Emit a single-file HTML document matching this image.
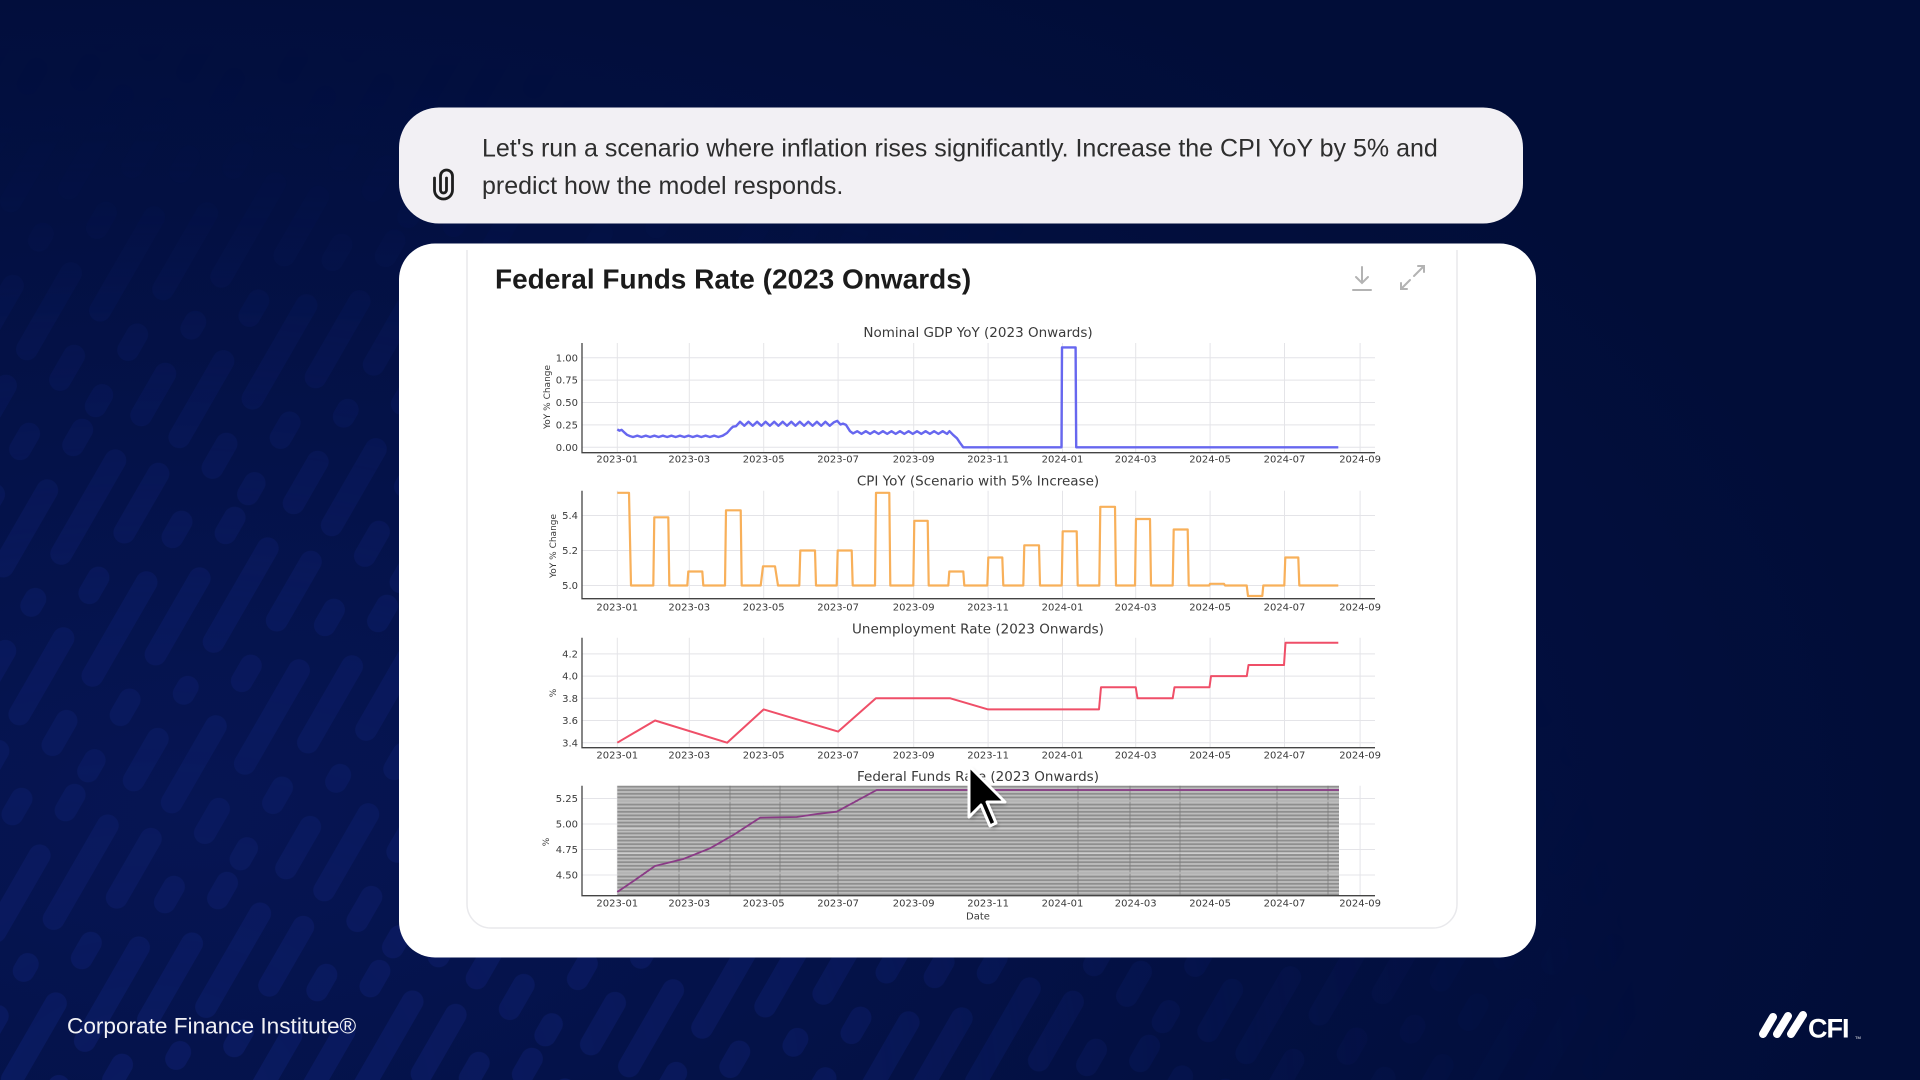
<!DOCTYPE html>
<html>
<head>
<meta charset="utf-8">
<style>
html,body{margin:0;padding:0;width:1920px;height:1080px;overflow:hidden;background:#020e3b;}
svg{position:absolute;left:0;top:0;display:block;}
.tk{font-family:"DejaVu Sans",sans-serif;font-size:10px;fill:#3a3a3a;}
.tt{font-family:"DejaVu Sans",sans-serif;font-size:13.5px;fill:#3a3a3a;}
.yl{font-family:"DejaVu Sans",sans-serif;font-size:9px;fill:#3a3a3a;}
</style>
</head>
<body>
<svg width="1920" height="1080" viewBox="0 0 1920 1080" xmlns="http://www.w3.org/2000/svg">
<defs>
  <radialGradient id="bgG" cx="0.1" cy="0.75" r="0.9">
    <stop offset="0" stop-color="#061553"/>
    <stop offset="1" stop-color="#010d38"/>
  </radialGradient>
  <pattern id="stripes" width="176" height="320" patternUnits="userSpaceOnUse" patternTransform="rotate(30)">
    <rect x="11" y="0" width="22" height="90" rx="11" fill="#0b1b62"/>
    <rect x="11" y="120" width="22" height="40" rx="11" fill="#0b1b62"/>
    <rect x="11" y="190" width="22" height="110" rx="11" fill="#0b1b62"/>
    <rect x="55" y="30" width="22" height="40" rx="11" fill="#0b1b62"/>
    <rect x="55" y="100" width="22" height="130" rx="11" fill="#0b1b62"/>
    <rect x="55" y="260" width="22" height="50" rx="11" fill="#0b1b62"/>
    <rect x="99" y="0" width="22" height="40" rx="11" fill="#0b1b62"/>
    <rect x="99" y="70" width="22" height="110" rx="11" fill="#0b1b62"/>
    <rect x="99" y="210" width="22" height="40" rx="11" fill="#0b1b62"/>
    <rect x="99" y="280" width="22" height="35" rx="11" fill="#0b1b62"/>
    <rect x="143" y="10" width="22" height="130" rx="11" fill="#0b1b62"/>
    <rect x="143" y="170" width="22" height="30" rx="11" fill="#0b1b62"/>
    <rect x="143" y="230" width="22" height="70" rx="11" fill="#0b1b62"/>
  </pattern>
  <radialGradient id="mg" gradientUnits="userSpaceOnUse" cx="150" cy="1100" r="1500" gradientTransform="translate(150,1100) scale(1,0.75) translate(-150,-1100)">
    <stop offset="0" stop-color="#fff" stop-opacity="1"/>
    <stop offset="0.45" stop-color="#fff" stop-opacity="0.75"/>
    <stop offset="0.75" stop-color="#fff" stop-opacity="0.25"/>
    <stop offset="1" stop-color="#fff" stop-opacity="0"/>
  </radialGradient>
  <linearGradient id="mg2" x1="0" y1="0" x2="0" y2="1">
    <stop offset="0" stop-color="#000" stop-opacity="1"/>
    <stop offset="0.12" stop-color="#000" stop-opacity="0.8"/>
    <stop offset="0.3" stop-color="#000" stop-opacity="0"/>
  </linearGradient>
  <mask id="m1">
    <rect width="1920" height="1080" fill="url(#mg)"/>
    <rect width="1920" height="1080" fill="url(#mg2)"/>
  </mask>
  <pattern id="hatch" width="20" height="3.6" patternUnits="userSpaceOnUse" y="785.7">
    <rect width="20" height="3.6" fill="#bdbdbd"/>
    <rect y="0" width="20" height="1.8" fill="#8e8e8e"/>
  </pattern>
  <filter id="sh" x="-30%" y="-30%" width="160%" height="160%">
    <feGaussianBlur stdDeviation="2"/>
  </filter>
</defs>

<!-- background -->
<rect width="1920" height="1080" fill="url(#bgG)"/>
<rect width="1920" height="1080" fill="url(#stripes)" mask="url(#m1)" opacity="0.9"/>

<!-- prompt bubble -->
<rect x="399" y="107.5" width="1124" height="116" rx="40" fill="#f2f0f4"/>
<path d="M434.5,178 V190 a9,9 0 0 0 18,0 V176 a6,6 0 0 0 -12,0 V190 a3,3 0 0 0 6,0 V178" fill="none" stroke="#1e1e1e" stroke-width="2.8" stroke-linecap="round"/>
<text x="482" y="156.5" font-family="Liberation Sans, sans-serif" font-size="25" fill="#2e2e2e">Let's run a scenario where inflation rises significantly. Increase the CPI YoY by 5% and</text>
<text x="482" y="193.8" font-family="Liberation Sans, sans-serif" font-size="25" fill="#2e2e2e">predict how the model responds.</text>

<!-- card -->
<rect x="399" y="243.5" width="1137" height="714" rx="36" fill="#ffffff"/>
<path d="M467,250 V904 a24,24 0 0 0 24,24 H1433 a24,24 0 0 0 24,-24 V250" fill="none" stroke="#e9e9ec" stroke-width="1.5"/>
<text x="495" y="288.3" font-family="Liberation Sans, sans-serif" font-size="28" font-weight="bold" fill="#1b1b1b">Federal Funds Rate (2023 Onwards)</text>
<!-- icons -->
<g stroke="#b3b3b3" stroke-width="2" fill="none" stroke-linecap="round">
  <path d="M1362,267 V283 M1356,277 L1362,283 L1368,277 M1353,290 H1371"/>
  <path d="M1414,276 L1424,266 M1418,266 H1424 V272 M1410,280 L1401,289 M1401,283 V289 H1407"/>
</g>

<!-- ============ GRIDS ============ -->
<g stroke="#e4e4e8" stroke-width="1">
  <path d="M617.3,343V452.7M689.3,343V452.7M763.7,343V452.7M838.1,343V452.7M913.7,343V452.7M988.1,343V452.7M1062.5,343V452.7M1135.7,343V452.7M1210.1,343V452.7M1284.5,343V452.7M1360.1,343V452.7"/>
  <path d="M582,357.7H1375M582,380.1H1375M582,402.5H1375M582,424.9H1375M582,447.3H1375"/>
  <path d="M617.3,490.7V598.7M689.3,490.7V598.7M763.7,490.7V598.7M838.1,490.7V598.7M913.7,490.7V598.7M988.1,490.7V598.7M1062.5,490.7V598.7M1135.7,490.7V598.7M1210.1,490.7V598.7M1284.5,490.7V598.7M1360.1,490.7V598.7"/>
  <path d="M582,515.5H1375M582,550.5H1375M582,585.5H1375"/>
  <path d="M617.3,637.7V747.7M689.3,637.7V747.7M763.7,637.7V747.7M838.1,637.7V747.7M913.7,637.7V747.7M988.1,637.7V747.7M1062.5,637.7V747.7M1135.7,637.7V747.7M1210.1,637.7V747.7M1284.5,637.7V747.7M1360.1,637.7V747.7"/>
  <path d="M582,653.9H1375M582,676.1H1375M582,698.3H1375M582,720.5H1375M582,742.7H1375"/>
  <path d="M617.3,785.7V895.7M689.3,785.7V895.7M763.7,785.7V895.7M838.1,785.7V895.7M913.7,785.7V895.7M988.1,785.7V895.7M1062.5,785.7V895.7M1135.7,785.7V895.7M1210.1,785.7V895.7M1284.5,785.7V895.7M1360.1,785.7V895.7"/>
  <path d="M582,798.5H1375M582,824H1375M582,849.5H1375M582,875H1375"/>
</g>

<!-- ============ SERIES ============ -->
<polyline fill="none" stroke="#6767ef" stroke-width="2.4" stroke-linejoin="round" points="
617.3,429.4 619.5,430.7 621.5,429.8 624,432.1 627,434.8 630,436.1 633,437.0
637.3,435.7 641.5,437.0 645.8,435.7 650.1,437.0 654.4,435.7 658.6,437.0 662.9,435.7 667.2,437.0 671.4,435.7 675.7,437.0 680,435.7 684.3,437.0 688.5,435.7 692.8,437.0 697.1,435.7 701.3,437.0 705.6,435.7 709.9,437.0 714.2,435.7 718.4,437.0 722.7,435.7
727,433.0 731,428.5 733,426.7 736,426.2 740,421.8
744.3,425.8 748.5,421.8 752.8,425.8 757.1,421.8 761.4,425.8 765.6,421.8 769.9,425.8 774.2,421.8 778.4,425.8 782.7,421.8 787,425.8 791.3,421.8 795.5,425.8 799.8,421.8 804.1,425.8 808.3,421.8 812.6,425.8 816.9,421.8 821.2,425.8 825.4,421.8 829.7,425.8 834,422.2 837.3,420.9 840.5,424.5 843,423.6 846,424.9 850,431.2 853,433.4
857.3,431.2 861.5,433.9 865.8,431.2 870.1,433.9 874.4,431.2 878.6,433.9 882.9,431.2 887.2,433.9 891.4,431.2 895.7,433.9 900,431.2 904.3,433.9 908.5,431.2 912.8,433.9 917.1,431.2 921.3,433.9 925.6,431.2 929.9,433.9 934.2,431.2 938.4,433.9 942.7,431.2 947,433.9 949.5,431.2
953,434.8 957,438.3 960,442.8 963.3,447.3 1061.5,447.3 1062,347.4 1075.6,347.4 1076.2,447.3 1338.3,447.3"/>

<path fill="none" stroke="#f8b05a" stroke-width="2.2" stroke-linejoin="round" d="M617.3,492.8 H629 L631,585.5 H653.3 L654.3,517.3 H668.3 L669.3,585.5 H687.3 L688.3,571.5 H702.3 L703.3,585.5 H725 L726,510.3 H740.7 L741.7,585.5 H760.7 L763,566.3 H775 L778,585.5 H799.3 L800.3,550.5 H815 L816,585.5 H836.7 L837.7,550.5 H851.7 L852.7,585.5 H875 L876,492.8 H889.3 L890.3,585.5 H913.3 L914.3,520.8 H927.7 L928.7,585.5 H948.3 L949.3,571.5 H963.3 L964.3,585.5 H987.3 L988.3,557.5 H1002.3 L1003.3,585.5 H1023.3 L1024.3,545.3 H1039 L1040,585.5 H1061.7 L1062.7,531.3 H1076.7 L1077.7,585.5 H1099.3 L1100.3,506.8 H1115 L1116,585.5 H1135 L1136,519 H1150 L1151,585.5 H1172.7 L1173.7,529.5 H1187.7 L1188.7,585.5 H1209.3 L1210,583.8 H1224 L1225,585.5 H1246.7 L1248,596 H1262.3 L1263.3,585.5 H1284.3 L1285.3,557.5 H1298.3 L1299.3,585.5 H1338.3"/>

<polyline fill="none" stroke="#ef4f68" stroke-width="2" stroke-linejoin="round" points="617.3,742.7 655.1,720.5 727.1,742.7 763.7,709.4 838.1,731.6 875.9,698.3 950.3,698.3 988.1,709.4 1099,709.4 1101,687.2 1135.7,687.2 1137.5,698.3 1172.7,698.3 1174.5,687.2 1209.5,687.2 1211,676.1 1246.8,676.1 1248.5,665 1284,665 1285.5,642.8 1338.3,642.8"/>

<rect x="617.3" y="785.7" width="721.7" height="110" fill="url(#hatch)"/>
<g stroke="#777" stroke-width="1" opacity="0.7">
  <path d="M679,785.7V895.7M730,785.7V895.7M780,785.7V895.7M838,785.7V895.7M1078,785.7V895.7M1130,785.7V895.7M1180,785.7V895.7M1277,785.7V895.7M1328,785.7V895.7"/>
</g>
<g stroke="#e6e6e6" stroke-width="1" opacity="0.8">
  <path d="M617.3,801H1339M617.3,829H1339M617.3,853H1339M617.3,873H1339"/>
</g>
<polyline fill="none" stroke="#8a3b86" stroke-width="1.8" stroke-linejoin="round" points="617.3,892 635,880 655,866 683.3,859 710,848.3 733.3,835 760,817.7 796.7,817 816.7,814 836.7,811.7 876.7,790 1339,790"/>

<!-- ============ SPINES ============ -->
<g stroke="#444" stroke-width="1.3" fill="none">
  <path d="M582,343V452.7H1375"/>
  <path d="M582,490.7V598.7H1375"/>
  <path d="M582,637.7V747.7H1375"/>
  <path d="M582,785.7V895.7H1375"/>
</g>

<g class="tt" text-anchor="middle">
  <text x="978" y="337">Nominal GDP YoY (2023 Onwards)</text>
  <text x="978" y="485.5">CPI YoY (Scenario with 5% Increase)</text>
  <text x="978" y="633.3">Unemployment Rate (2023 Onwards)</text>
  <text x="978" y="781">Federal Funds Rate (2023 Onwards)</text>
</g>

<g class="tk" text-anchor="middle">
  <g transform="translate(0,462.6)">
    <text x="617.3">2023-01</text><text x="689.3">2023-03</text><text x="763.7">2023-05</text><text x="838.1">2023-07</text><text x="913.7">2023-09</text><text x="988.1">2023-11</text><text x="1062.5">2024-01</text><text x="1135.7">2024-03</text><text x="1210.1">2024-05</text><text x="1284.5">2024-07</text><text x="1360.1">2024-09</text>
  </g>
  <g transform="translate(0,610.6)">
    <text x="617.3">2023-01</text><text x="689.3">2023-03</text><text x="763.7">2023-05</text><text x="838.1">2023-07</text><text x="913.7">2023-09</text><text x="988.1">2023-11</text><text x="1062.5">2024-01</text><text x="1135.7">2024-03</text><text x="1210.1">2024-05</text><text x="1284.5">2024-07</text><text x="1360.1">2024-09</text>
  </g>
  <g transform="translate(0,758.6)">
    <text x="617.3">2023-01</text><text x="689.3">2023-03</text><text x="763.7">2023-05</text><text x="838.1">2023-07</text><text x="913.7">2023-09</text><text x="988.1">2023-11</text><text x="1062.5">2024-01</text><text x="1135.7">2024-03</text><text x="1210.1">2024-05</text><text x="1284.5">2024-07</text><text x="1360.1">2024-09</text>
  </g>
  <g transform="translate(0,906.6)">
    <text x="617.3">2023-01</text><text x="689.3">2023-03</text><text x="763.7">2023-05</text><text x="838.1">2023-07</text><text x="913.7">2023-09</text><text x="988.1">2023-11</text><text x="1062.5">2024-01</text><text x="1135.7">2024-03</text><text x="1210.1">2024-05</text><text x="1284.5">2024-07</text><text x="1360.1">2024-09</text>
  </g>
  <text x="978" y="919.6">Date</text>
</g>

<g class="tk" text-anchor="end">
  <text x="578" y="361.3">1.00</text><text x="578" y="383.7">0.75</text><text x="578" y="406.1">0.50</text><text x="578" y="428.5">0.25</text><text x="578" y="450.9">0.00</text>
  <text x="578" y="519.1">5.4</text><text x="578" y="554.1">5.2</text><text x="578" y="589.1">5.0</text>
  <text x="578" y="657.5">4.2</text><text x="578" y="679.7">4.0</text><text x="578" y="701.9">3.8</text><text x="578" y="724.1">3.6</text><text x="578" y="746.3">3.4</text>
  <text x="578" y="802.1">5.25</text><text x="578" y="827.6">5.00</text><text x="578" y="853.1">4.75</text><text x="578" y="878.6">4.50</text>
</g>
<g class="yl" text-anchor="middle">
  <text transform="translate(549.8,397) rotate(-90)">YoY % Change</text>
  <text transform="translate(556.2,546) rotate(-90)">YoY % Change</text>
  <text transform="translate(556,693) rotate(-90)">%</text>
  <text transform="translate(549,842) rotate(-90)">%</text>
</g>

<!-- cursor -->
<g transform="translate(969,766)">
  <polygon points="0,0 0,51 12,39 21,60 27,57 18,36 36,36" fill="#000" opacity="0.35" filter="url(#sh)" transform="translate(2,3)"/>
  <polygon points="0,0 0,51 12,39 21,60 27,57 18,36 36,36" fill="#000" stroke="#fff" stroke-width="3" stroke-linejoin="round"/>
</g>

<!-- footer -->
<text x="67" y="1033.5" font-family="Liberation Sans, sans-serif" font-size="22.6" fill="#f2f2f6">Corporate Finance Institute®</text>
<g fill="#ffffff">
  <g stroke="#fff" stroke-width="8" stroke-linecap="round">
    <line x1="1763" y1="1034" x2="1773" y2="1017"/>
    <line x1="1777" y1="1034" x2="1788" y2="1016"/>
    <line x1="1791" y1="1034" x2="1803" y2="1015"/>
  </g>
  <text x="1808" y="1037.5" font-family="Liberation Sans, sans-serif" font-size="27" font-weight="bold" letter-spacing="-1">CFI</text>
  <text x="1855" y="1039" font-family="Liberation Sans, sans-serif" font-size="4">TM</text>
</g>
</svg>
</body>
</html>
